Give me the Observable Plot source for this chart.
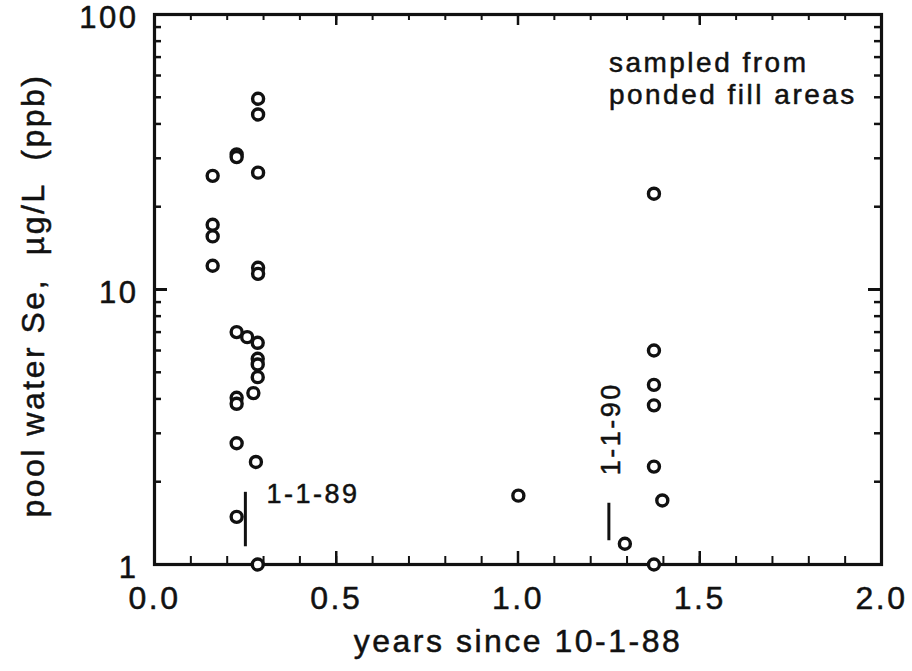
<!DOCTYPE html>
<html><head><meta charset="utf-8">
<script src="https://cdn.jsdelivr.net/npm/d3@7"></script>
<script src="https://cdn.jsdelivr.net/npm/@observablehq/plot@0.6"></script>
<style>body{margin:0;background:#fff}</style>
</head><body><div id="chart"></div>
<script>
// Sample times (years since 10-1-88) and pool-water Se (µg/L)
const years = [0.160,0.160,0.160,0.160,0.226,0.226,0.285,0.285,0.285,0.285,0.285,
               0.226,0.255,0.284,0.284,0.284,0.284,0.272,0.226,0.226,0.226,0.279,0.226,0.284,
               1.001,1.374,1.374,1.374,1.374,1.374,1.397,1.294,1.374];
const seValues = [25.9,17.2,15.6,12.2,31.0,30.3,49.4,43.3,26.6,12.0,11.4,
                  7.0,6.71,6.40,5.60,5.34,4.80,4.20,4.04,3.84,2.76,2.36,1.49,1.0,
                  1.78,22.3,6.0,4.50,3.79,2.27,1.71,1.19,1.0];

// Date markers
const markerYears = [0.25, 1.25];
const markerLabels = ["1-1-89", "1-1-90"];
const markerLow = [1.16, 1.22];
const markerHigh = [1.83, 1.67];

// Axes
const xTickValues = [0, 0.5, 1, 1.5, 2];
const xTickLabels = ["0.0", "0.5", "1.0", "1.5", "2.0"];
const xMinorTicks = d3.range(0, 21).map(i => i / 10);
const yTickValues = [1, 10, 100];
const yTickLabels = ["1", "10", "100"];
const yMinorTicks = [2,3,4,5,6,7,8,9,20,30,40,50,60,70,80,90];
const xTitle = "years since 10-1-88";
const yTitle = "pool water Se,  \u00b5g/L  (ppb)";
const note = "sampled from\nponded fill areas";

const W = 912, H = 671;
const mT = 14, mB = 107, mL = 154, mR = 31;
const plotH = H - mT - mB, plotW = W - mL - mR;

const points = years.map((x, i) => ({x, y: seValues[i]}));
const markers = markerYears.map((x, i) => ({x, low: markerLow[i], high: markerHigh[i], label: markerLabels[i]}));

const ink = "#111";
const txt = {fill: ink, stroke: ink, strokeWidth: 0.5};
const chart = Plot.plot({
  width: W, height: H,
  marginTop: mT, marginBottom: mB, marginLeft: mL, marginRight: mR,
  x: {type: "linear", domain: [0, 2], axis: null},
  y: {type: "log", domain: [1, 100], axis: null},
  style: {fontFamily: "'Liberation Sans', Arial, sans-serif", background: "#fff", color: ink},
  marks: [
    // minor and major ticks, inward on all sides
    Plot.tickX(xMinorTicks, {x: d => d, insetTop: plotH - 8, stroke: ink, strokeWidth: 2}),
    Plot.tickX(xMinorTicks, {x: d => d, insetBottom: plotH - 6, stroke: ink, strokeWidth: 2}),
    Plot.tickX(xTickValues, {x: d => d, insetTop: plotH - 13, stroke: ink, strokeWidth: 2.5}),
    Plot.tickX(xTickValues, {x: d => d, insetBottom: plotH - 11, stroke: ink, strokeWidth: 2.5}),
    Plot.tickY(yMinorTicks, {y: d => d, insetRight: plotW - 7, stroke: ink, strokeWidth: 2.5}),
    Plot.tickY(yMinorTicks, {y: d => d, insetLeft: plotW - 7, stroke: ink, strokeWidth: 2.5}),
    Plot.tickY(yTickValues, {y: d => d, insetRight: plotW - 13, stroke: ink, strokeWidth: 3}),
    Plot.tickY(yTickValues, {y: d => d, insetLeft: plotW - 13, stroke: ink, strokeWidth: 3}),
    Plot.frame({stroke: ink, strokeWidth: 3.2}),
    // tick labels
    Plot.text(xTickValues, {x: d => d, text: (d, i) => xTickLabels[i], frameAnchor: "bottom", lineAnchor: "top", dy: 22, fontSize: 32, ...txt}),
    Plot.text(yTickValues, {y: d => d, text: (d, i) => yTickLabels[i], frameAnchor: "left", textAnchor: "end", dx: -16, dy: 4, fontSize: 31, ...txt}),
    // axis titles
    Plot.text([xTitle], {text: d => d, frameAnchor: "bottom", textAnchor: "middle", lineAnchor: "bottom", dy: 87, fontSize: 32, ...txt}),
    Plot.text([yTitle], {text: d => d, frameAnchor: "left", textAnchor: "middle", rotate: -90, lineAnchor: "top", dx: -133, dy: 6, fontSize: 32, ...txt}),
    // date markers
    Plot.ruleX(markers, {x: "x", y1: "low", y2: "high", stroke: ink, strokeWidth: 3}),
    Plot.text([markers[0]], {x: "x", y: "high", text: "label", textAnchor: "start", lineAnchor: "middle", dx: 21, dy: 2, fontSize: 27, ...txt}),
    Plot.text([markers[1]], {x: "x", y: "high", text: "label", rotate: -90, textAnchor: "start", lineAnchor: "middle", dx: 2, dy: -28, fontSize: 27, ...txt}),
    // note
    Plot.text([note], {x: 1.25, y: 75, text: d => d, textAnchor: "start", lineAnchor: "top", lineHeight: 1.15, fontSize: 28, ...txt}),
    // data
    Plot.dot(points, {x: "x", y: "y", r: 5.5, stroke: ink, strokeWidth: 3.4, fill: "white"})
  ]
});
// letter spacing for the scanned-style lettering
chart.querySelectorAll("text").forEach(t => t.setAttribute("letter-spacing", "2.5"));
document.getElementById("chart").append(chart);
</script>
</body></html>
